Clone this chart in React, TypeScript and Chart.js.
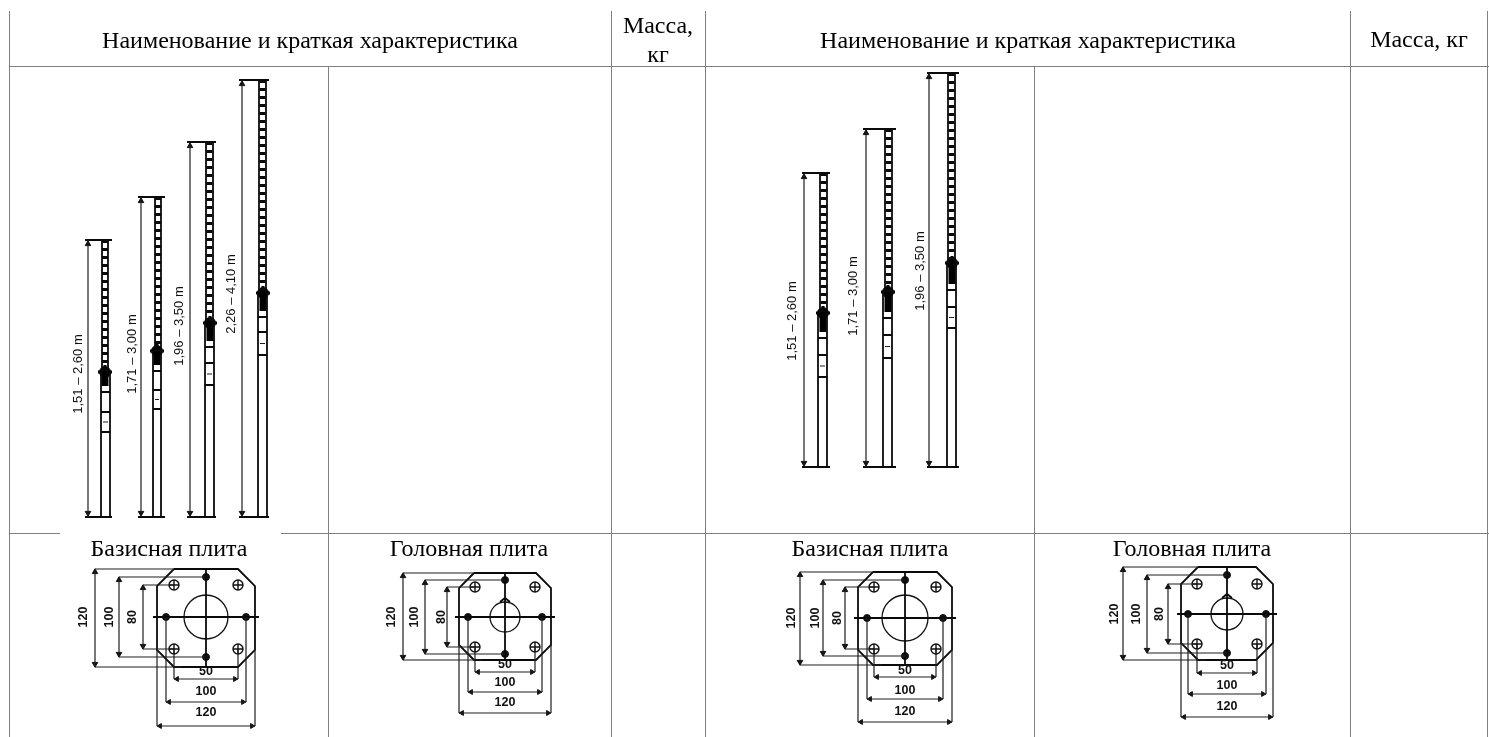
import React, { useEffect, useRef } from "react";
import { Chart, registerables } from "chart.js";

Chart.register(...registerables);

const WIDTH = 1489;
const HEIGHT = 737;

// table rules: [x, yFrom, yTo] and [y, xFrom, xTo]
const tableVerticals = [
  [9.5, 11, 737], [328.5, 66, 737], [611.5, 11, 737], [705.5, 11, 737],
  [1034.5, 66, 737], [1350.5, 11, 737], [1487.5, 11, 737],
];
const tableHorizontals = [
  [66.5, 9, 1489], [533.5, 9, 60], [533.5, 281, 1489],
];

// header and cell texts: [text, centre x, baseline y]
const tableTexts: [string, number, number][] = [
  ["Наименование и краткая характеристика", 310, 48],
  ["Масса,", 658, 33],
  ["кг", 658, 62],
  ["Наименование и краткая характеристика", 1028, 48],
  ["Масса, кг", 1419, 47],
  ["Базисная плита", 169, 556],
  ["Головная плита", 469, 556],
  ["Базисная плита", 870, 556],
  ["Головная плита", 1192, 556],
];

// telescopic props
const propLabels = ["1,51 – 2,60 m", "1,71 – 3,00 m", "1,96 – 3,50 m", "2,26 – 4,10 m", "1,51 – 2,60 m", "1,71 – 3,00 m", "1,96 – 3,50 m"];
const propLabelX = [78, 132, 179, 231, 792, 853, 920];
const propLabelY = [374, 354, 326, 294, 321, 296, 271];
const propTop = [240, 197, 142, 80, 173, 129, 73];
const propBottom = [517, 517, 517, 517, 467, 467, 467];
const propDimX = [88, 141, 190, 242, 804, 866, 929];
const propCapLeft = [85, 138, 187, 239, 802, 863, 927];
const propCapRight = [112, 165, 216, 269, 830, 896, 959];
const propUpperLeft = [102, 155, 206, 259, 820, 885, 948];
const propUpperRight = [108, 161, 213, 266, 827, 892, 955];
const propLowerLeft = [101, 153, 205, 258, 818, 883, 947];
const propLowerRight = [110, 161, 214, 267, 827, 892, 956];
const propKnobX = [105, 157, 210, 263, 823, 888, 952];
const propKnobY = [372, 351, 323, 293, 313, 292, 263];
const propCollarBottom = [392, 371, 347, 317, 338, 318, 290];
const propTagTop = [412, 390, 363, 332, 355, 335, 307];
const propTagBottom = [432, 409, 385, 355, 377, 358, 328];

// plates
const plateCX = [206, 505, 905, 1227];
const plateCY = [617, 617, 618, 614];
const plateHalfW = [49, 46, 47, 46];
const plateTop = [569, 573, 572, 567];
const plateBottom = [667, 660, 665, 660];
const plateChamfer = [17, 15, 15, 17];
const plateDotHalf = [40, 37, 38, 39];
const plateBoltHalf = [32, 30, 31, 30];
const plateHoleR = [22, 15, 23, 16];
const plateNotch = [0, 1, 0, 1];
const dim120X = [95, 403, 800, 1123];
const dim100X = [119, 425, 823, 1147];
const dim80X = [143, 447, 845, 1168];
const dim50Y = [679, 672, 677, 673];
const dim100Y = [702, 692, 699, 694];
const dim120Y = [726, 713, 722, 717];
const label120X = [84, 392, 792, 1115];
const label100X = [110, 415, 816, 1137];
const label80X = [133, 442, 838, 1160];
const label50Y = [672, 665, 671, 666];
const label100Y = [692, 683, 691, 686];
const label120Y = [713, 703, 712, 707];

type P = { x: number; y: number };
const GAP: P = { x: NaN, y: NaN };
const path = (...pts: number[][]): P[] => [...pts.map(([x, y]) => ({ x, y })), GAP];

const gridData: P[] = [
  ...tableVerticals.flatMap(([x, a, b]) => path([x, a], [x, b])),
  ...tableHorizontals.flatMap(([y, a, b]) => path([a, y], [b, y])),
];

const heavy: P[] = [];
const thin: P[] = [];
const rungs: P[] = [];
const collars: P[] = [];
const knobs: P[] = [];
const arrowsUp: P[] = [];
const arrowsDown: P[] = [];
const arrowsLeft: P[] = [];
const arrowsRight: P[] = [];

propTop.forEach((top, i) => {
  const bot = propBottom[i];
  const ky = propKnobY[i];
  const ul = propUpperLeft[i];
  const ur = propUpperRight[i];
  const ll = propLowerLeft[i];
  const lr = propLowerRight[i];
  heavy.push(...path([propCapLeft[i], top], [propCapRight[i], top]));
  heavy.push(...path([propCapLeft[i], bot], [propCapRight[i], bot]));
  thin.push(...path([propDimX[i], top], [propDimX[i], bot]));
  heavy.push(...path([ul, top], [ul, ky]), ...path([ur, top], [ur, ky]));
  heavy.push(...path([ll, ky], [ll, bot]), ...path([lr, ky], [lr, bot]));
  rungs.push(...path([(ul + ur) / 2, top], [(ul + ur) / 2, ky]));
  collars.push(...path([propKnobX[i], ky], [propKnobX[i], propCollarBottom[i] - 6]));
  heavy.push(...path([ll, propCollarBottom[i]], [lr, propCollarBottom[i]]));
  heavy.push(...path([ll, propTagTop[i]], [lr, propTagTop[i]], [lr, propTagBottom[i]], [ll, propTagBottom[i]], [ll, propTagTop[i]]));
  thin.push(...path([ll + 2, (propTagTop[i] + propTagBottom[i]) / 2], [lr - 2, (propTagTop[i] + propTagBottom[i]) / 2]));
  knobs.push({ x: propKnobX[i], y: ky });
  arrowsUp.push({ x: propDimX[i], y: top + 4 });
  arrowsDown.push({ x: propDimX[i], y: bot - 4 });
});

const holes: P[] = [];
const dots: P[] = [];
const bolts: P[] = [];

plateCX.forEach((cx, i) => {
  const cy = plateCY[i];
  const hw = plateHalfW[i];
  const t = plateTop[i];
  const b = plateBottom[i];
  const c = plateChamfer[i];
  const d = plateDotHalf[i];
  const q = plateBoltHalf[i];
  const l = cx - hw;
  const r = cx + hw;
  heavy.push(...path([l + c, t], [r - c, t], [r, t + c], [r, b - c], [r - c, b], [l + c, b], [l, b - c], [l, t + c], [l + c, t]));
  heavy.push(...path([l - 4, cy], [r + 4, cy]), ...path([cx, t], [cx, b]));
  holes.push({ x: cx, y: cy });
  if (plateNotch[i]) {
    heavy.push(...path([cx - 5, cy - plateHoleR[i]], [cx, cy - plateHoleR[i] - 4], [cx + 5, cy - plateHoleR[i]]));
  }
  dots.push({ x: cx - d, y: cy }, { x: cx + d, y: cy }, { x: cx, y: cy - d }, { x: cx, y: cy + d });
  bolts.push({ x: cx - q, y: cy - q }, { x: cx + q, y: cy - q }, { x: cx - q, y: cy + q }, { x: cx + q, y: cy + q });

  // left dimensions
  const x120 = dim120X[i];
  const x100 = dim100X[i];
  const x80 = dim80X[i];
  thin.push(...path([x120, t], [x120, b]), ...path([x120, t], [l + c, t]), ...path([x120, b], [l + c + 8, b]));
  thin.push(...path([x100, cy - d], [x100, cy + d]), ...path([x100, cy - d], [cx, cy - d]), ...path([x100, cy + d], [cx, cy + d]));
  thin.push(...path([x80, cy - q], [x80, cy + q]), ...path([x80, cy - q], [cx - q, cy - q]), ...path([x80, cy + q], [cx - q, cy + q]));
  arrowsUp.push({ x: x120, y: t + 3 }, { x: x100, y: cy - d + 3 }, { x: x80, y: cy - q + 3 });
  arrowsDown.push({ x: x120, y: b - 3 }, { x: x100, y: cy + d - 3 }, { x: x80, y: cy + q - 3 });

  // bottom dimensions
  const y50 = dim50Y[i];
  const y100 = dim100Y[i];
  const y120 = dim120Y[i];
  thin.push(...path([cx - q, y50], [cx + q, y50]), ...path([cx - q, cy + q], [cx - q, y50]), ...path([cx + q, cy + q], [cx + q, y50]));
  thin.push(...path([cx - d, y100], [cx + d, y100]), ...path([cx - d, cy], [cx - d, y100]), ...path([cx + d, cy], [cx + d, y100]));
  thin.push(...path([l, y120], [r, y120]), ...path([l, b - c], [l, y120]), ...path([r, b - c], [r, y120]));
  arrowsLeft.push({ x: cx - q + 3, y: y50 }, { x: cx - d + 3, y: y100 }, { x: l + 3, y: y120 });
  arrowsRight.push({ x: cx + q - 3, y: y50 }, { x: cx + d - 3, y: y100 }, { x: r - 3, y: y120 });
});

const INK = "#111111";
const SOFT = "blur(0.45px)";

const base = { type: "scatter" as const, clip: false };
const lineSet = (data: P[], color: string, width: number, extra: object = {}) => ({
  ...base, data, showLine: true, spanGaps: false, borderColor: color, borderWidth: width,
  pointRadius: 0, tension: 0, borderCapStyle: "butt", ...extra,
});
const pointSet = (data: P[], style: string, radius: number | number[], rotation: number, extra: object = {}) => ({
  ...base, data, showLine: false, pointStyle: style, pointRadius: radius, pointRotation: rotation,
  pointBackgroundColor: INK, pointBorderColor: INK, pointBorderWidth: 1, ...extra,
});

const textPlugin = {
  id: "tableText",
  beforeDatasetDraw(chart: any, args: any) {
    const ds = chart.data.datasets[args.index];
    chart.ctx.filter = ds.soft ? SOFT : "none";
  },
  afterDatasetDraw(chart: any) {
    chart.ctx.filter = "none";
  },
  afterDraw(chart: any) {
    const ctx = chart.ctx;
    const { x: sx, y: sy } = chart.scales;
    ctx.save();
    ctx.fillStyle = "#000";
    ctx.textAlign = "center";
    ctx.textBaseline = "alphabetic";
    ctx.font = '24px "Liberation Serif"';
    tableTexts.forEach(([t, x, y]) => ctx.fillText(t, sx.getPixelForValue(x), sy.getPixelForValue(y)));

    ctx.filter = "blur(0.4px)";
    ctx.fillStyle = "#111";
    ctx.textBaseline = "middle";
    const rotated = (t: string, x: number, y: number) => {
      ctx.save();
      ctx.translate(sx.getPixelForValue(x), sy.getPixelForValue(y));
      ctx.rotate(-Math.PI / 2);
      ctx.fillText(t, 0, 0);
      ctx.restore();
    };
    ctx.font = '13px "Liberation Sans"';
    propLabels.forEach((t, i) => rotated(t, propLabelX[i], propLabelY[i]));
    ctx.font = 'bold 12.5px "Liberation Sans"';
    plateCX.forEach((cx, i) => {
      const cy = plateCY[i];
      rotated("120", label120X[i], cy);
      rotated("100", label100X[i], cy);
      rotated("80", label80X[i], cy);
      ctx.fillText("50", sx.getPixelForValue(cx), sy.getPixelForValue(label50Y[i]));
      ctx.fillText("100", sx.getPixelForValue(cx), sy.getPixelForValue(label100Y[i]));
      ctx.fillText("120", sx.getPixelForValue(cx), sy.getPixelForValue(label120Y[i]));
    });
    ctx.restore();
  },
};

export default function App() {
  const ref = useRef<HTMLCanvasElement>(null);
  useEffect(() => {
    const chart = new Chart(ref.current as HTMLCanvasElement, {
      type: "scatter",
      data: {
        datasets: [
          lineSet(gridData, "#808080", 1),
          lineSet(thin, "#1e1e1e", 1.2, { soft: true }),
          lineSet(heavy, "#0a0a0a", 1.8, { soft: true }),
          lineSet(rungs, "#0a0a0a", 6, { soft: true, borderDash: [3, 5] }),
          lineSet(collars, "#000", 7, { soft: true }),
          pointSet(knobs, "circle", 5.5, 0, { soft: true, pointBackgroundColor: "#000" }),
          pointSet(knobs, "crossRot", 7, 45, { soft: true, pointBorderWidth: 3, pointBorderColor: "#000" }),
          pointSet(arrowsUp, "triangle", 3.2, 0, { soft: true }),
          pointSet(arrowsDown, "triangle", 3.2, 180, { soft: true }),
          pointSet(arrowsLeft, "triangle", 2.8, 270, { soft: true }),
          pointSet(arrowsRight, "triangle", 2.8, 90, { soft: true }),
          pointSet(dots, "circle", 3.5, 0, { soft: true }),
          pointSet(bolts, "circle", 5, 0, { soft: true, pointBackgroundColor: "rgba(0,0,0,0)", pointBorderWidth: 1.4 }),
          pointSet(bolts, "cross", 5, 0, { soft: true, pointBorderWidth: 1.4 }),
          pointSet(holes, "circle", plateHoleR, 0, { soft: true, pointBackgroundColor: "rgba(0,0,0,0)", pointBorderWidth: 1.3 }),
        ] as any,
      },
      options: {
        animation: false,
        responsive: false,
        devicePixelRatio: 1,
        events: [],
        layout: { padding: 0, autoPadding: false },
        plugins: { legend: { display: false }, tooltip: { enabled: false } },
        scales: {
          x: { type: "linear", min: 0, max: WIDTH, display: false },
          y: { type: "linear", min: 0, max: HEIGHT, reverse: true, display: false },
        },
      },
      plugins: [textPlugin],
    });
    return () => chart.destroy();
  }, []);
  return (
    <canvas
      ref={ref}
      width={WIDTH}
      height={HEIGHT}
      style={{ position: "fixed", left: 0, top: 0, display: "block", background: "#fff" }}
    />
  );
}
